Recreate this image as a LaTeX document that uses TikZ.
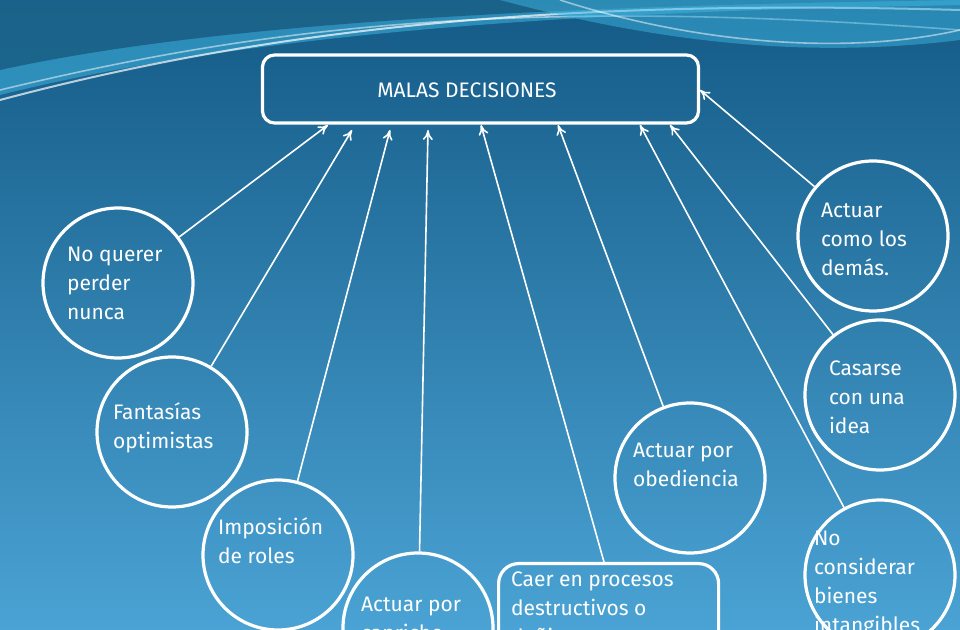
\documentclass[tikz,border=0pt]{standalone}
\usepackage{fontspec}
\setmainfont{Fira Sans}
\usetikzlibrary{arrows.meta}
\definecolor{bgtop}{HTML}{145A86}
\definecolor{bgbot}{HTML}{4AA3D4}
\definecolor{wave}{HTML}{3FB4E0}
\tikzset{
  circ/.style={circle,draw=white,line width=1.6pt,minimum size=75pt,inner sep=0pt},
  txt/.style={text=white,font=\fontsize{10.5}{14.5}\selectfont,align=left},
  conn/.style={draw=white,line width=0.8pt,-{To[length=5pt,width=5pt]}}
}
\begin{document}
\begin{tikzpicture}[x=0.5pt,y=-0.5pt]
\useasboundingbox (0,0) rectangle (960,630);
\clip (0,0) rectangle (960,630);
\shade[top color=bgtop,bottom color=bgbot] (0,0) rectangle (960,630);
% waves
\fill[wave,opacity=0.55] (0,0) -- (960,0) -- (960,5) .. controls (700,10) and (300,20) .. (0,95) -- cycle;
\fill[bgtop!80!black,opacity=0.6] (0,0) -- (960,0) -- (960,0) .. controls (650,5) and (250,15) .. (0,70) -- cycle;
\draw[white,opacity=0.7,line width=1pt] (0,100) .. controls (300,20) and (600,0) .. (960,10);
\draw[white,opacity=0.5,line width=0.8pt] (0,90) .. controls (250,30) and (500,-5) .. (960,30);
\fill[wave,opacity=0.5] (500,0) .. controls (650,40) and (800,60) .. (960,40) -- (960,0) -- cycle;
\draw[white,opacity=0.5,line width=0.8pt] (560,0) .. controls (700,45) and (850,55) .. (960,30);

\node[draw=white,line width=1.6pt,rounded corners=6pt,minimum width=218pt,minimum height=34pt] (main) at (480.5,89) {};
\node[txt] at (467,90) {MALAS DECISIONES};

\node[circ] (c1) at (118,283) {}; \node[txt,anchor=west] at (60,283) {No querer\\perder\\nunca};
\node[circ] (c2) at (172,432) {}; \node[txt,anchor=west] at (106,428) {Fantasías\\optimistas};
\node[circ] (c3) at (278,555) {}; \node[txt,anchor=west] at (211,541) {Imposición\\de roles};
\node[circ] (c4) at (418,628) {}; \node[txt,anchor=north west] at (354,590) {Actuar por\\capricho};
\node[draw=white,line width=1.6pt,rounded corners=10pt,minimum width=110pt,minimum height=60pt,anchor=north west] (c5) at (497,562) {};
\node[txt,anchor=north west] at (504,565) {Caer en procesos\\destructivos o\\dañinos};
\node[circ] (c6) at (690,478) {}; \node[txt,anchor=west] at (626,465) {Actuar por\\obediencia};
\node[circ] (c7) at (873,236) {}; \node[txt,anchor=west] at (814,239) {Actuar\\como los\\demás.};
\node[circ] (c8) at (880,395) {}; \node[txt,anchor=west] at (822,397) {Casarse\\con una\\idea};
\node[circ] (c9) at (880,575) {}; \node[txt,anchor=north west] at (807,524) {No\\considerar\\bienes\\intangibles};

\coordinate (t1) at (328,125); \coordinate (t2) at (352,130); \coordinate (t3) at (390,130);
\coordinate (t4) at (428,130); \coordinate (t5) at (481,125); \coordinate (t6) at (558,125);
\coordinate (t7) at (700,90); \coordinate (t8) at (670,125); \coordinate (t9) at (640,125);
\coordinate (s5) at (604,562);
\draw[conn] (c1) -- (t1); \draw[conn] (c2) -- (t2); \draw[conn] (c3) -- (t3);
\draw[conn] (c4) -- (t4); \draw[conn] (s5) -- (t5); \draw[conn] (c6) -- (t6);
\draw[conn] (c7) -- (t7); \draw[conn] (c8) -- (t8); \draw[conn] (c9) -- (t9);
\end{tikzpicture}
\end{document}
